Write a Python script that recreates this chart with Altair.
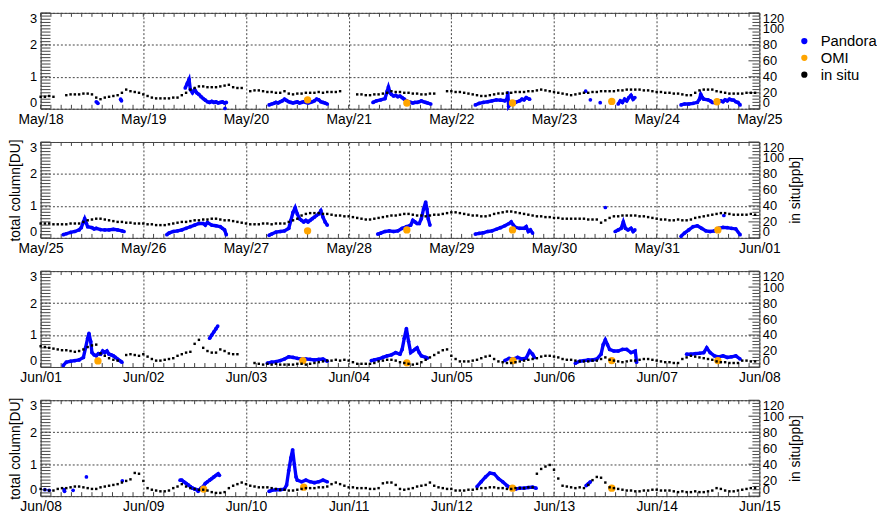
import altair as alt
import pandas as pd
import numpy as np

FONT = "Liberation Sans"
BLUE = "#0000ff"
ORANGE = "#ffa500"
BLACK = "#000000"
W, H = 727, 97

day_labels = ["May/18", "May/19", "May/20", "May/21", "May/22", "May/23", "May/24",
              "May/25", "May/26", "May/27", "May/28", "May/29", "May/30", "May/31",
              "Jun/01", "Jun/02", "Jun/03", "Jun/04", "Jun/05", "Jun/06", "Jun/07",
              "Jun/08", "Jun/09", "Jun/10", "Jun/11", "Jun/12", "Jun/13", "Jun/14", "Jun/15"]

N = None
# in situ NO2, hourly values (ppb) for each 7-day panel; None = no data
insitu_p1 = [15, 15, 16, 15, N, N, 17, 18, 18, 18, 19, 19, 18, 14, 12, 14, 15, 16, 17, 20, 24, 22, 21, 20,
             18, 16, 14, 13, 13, 13, 13, 14, 14, 17, 20, 24, 26, 28, 28, 27, 27, 27, 28, 29, 30, 27, 26, 26,
             N, 22, 23, 23, 22, 21, 21, 20, 20, 22, 19, 18, 19, 19, 20, 20, 20, 21, 20, 21, 21, 21, 22, N,
             N, N, 18, 18, 17, 17, 18, 18, 19, 20, 22, 21, 21, 20, 20, 19, 19, 18, 18, 19, 19, N, N, 22,
             22, 21, 21, 20, 19, 18, 17, 16, 16, 17, 18, 19, 19, 20, 20, 21, 21, 21, 22, 22, 23, 24, 23, 22,
             21, 20, 19, 18, 17, 18, 19, 20, 20, 21, 21, 22, 22, 22, 22, 23, 23, 24, 24, 24, 24, 23, 23, 22,
             21, 21, 20, 20, 19, 19, 18, 17, 17, 20, 23, 24, 24, 24, 22, 21, 20, 19, 19, 19, 19, 20, 20, 20]
insitu_p2 = [18, 18, 18, 17, 17, 17, 17, 18, 18, 18, 20, 22, 23, 24, 24, 23, 22, 21, 20, 20, 19, 19, 18, 18,
             18, 17, 17, 16, 16, 16, 17, 18, 19, 20, 20, 21, 22, 22, 23, 23, 24, 24, 23, 22, 22, 21, 20, 19,
             18, 17, 17, 17, 18, 18, 17, 18, 18, 18, 20, 22, 24, 28, 30, 31, 31, 31, 30, 30, 29, 28, 28, 27,
             27, 26, 25, 24, 23, 23, 24, 25, 26, 27, 28, 28, 29, 30, 30, 29, 28, 28, 27, 28, 29, 29, 30, 31,
             32, 32, 31, 30, 29, 28, 28, 27, 27, 28, 30, 31, 32, 33, 33, 32, 31, 30, 29, 28, 27, 27, 26, 26,
             25, 25, 24, 24, 24, 24, 24, 24, 23, 23, 23, 19, 22, 25, 27, 27, 28, 28, 28, 28, 27, 27, 26, 25,
             24, 23, 23, 22, 22, 23, 22, 22, 23, 25, 26, 27, 28, 29, 30, 31, 31, 30, 29, 29, 29, 29, 30, 29]
insitu_p3 = [26, 25, 24, 23, 22, 21, 21, 20, 19, 20, 22, 25, 27, 28, 17, 14, 11, 9, 8, N, 15, 16, 15, 14,
             16, 13, 10, 8, 8, 9, 10, 11, 14, 16, 18, 19, 29, 34, 24, 20, 18, 18, 22, 20, 17, 16, 16, N,
             N, N, 5, 4, 3, 4, 3, 4, 3, 3, 3, 3, 4, 4, 3, 4, 5, 6, 7, 8, 8, 9, 8, 9,
             8, 6, 4, 4, 4, 4, 5, 7, 8, 9, 9, 8, 6, 5, 4, 3, 4, 6, 9, 12, 15, 18, 21, 22,
             14, 10, 7, 7, 7, 8, 9, 11, 13, 14, 10, 7, 6, 5, 5, 6, 7, 8, 9, 10, 11, 13, 14, 14,
             13, 12, 10, 9, 9, 8, 7, 7, 7, 8, 8, 10, 12, 9, 8, 7, 6, 7, 8, 8, 9, 10, 10, 9,
             8, 7, 6, 6, 5, 5, 10, 12, 14, 13, 12, 11, 10, 9, 7, 6, 6, 5, 5, 5, 8, 8, 7, 7]
insitu_p4 = [9, 8, 7, 7, 9, 10, 10, 11, 12, 12, 11, 10, 9, 9, 11, 12, 13, 14, 15, 17, 19, 21, 29, 28,
             19, 10, 8, 7, 6, 6, 7, 10, 12, 15, 12, 10, 9, 8, 8, 7, 5, 4, 4, 5, 10, 13, 15, 17,
             15, 13, 12, 11, 11, 11, 10, 9, 8, 8, 7, 7, 8, 9, 10, 10, 10, 11, 11, 12, 15, 17, 15, 13,
             11, 11, 10, 10, 10, 9, 9, 10, 16, 17, 17, 14, 9, 8, 9, 10, 12, 13, 14, 17, 13, 11, 10, 9,
             9, 7, 7, 7, 8, 8, 9, 10, 10, 11, 11, 10, 10, 9, 9, 10, 10, 10, 11, 11, 28, 34, 37, 39,
             33, 22, 13, 12, 11, 10, 11, 10, 14, 20, 24, 23, 17, 11, 10, 9, 8, 7, 7, 6, 6, 7, 7, 8,
             8, 7, 7, 7, 6, 5, 6, 5, 5, 6, 5, 5, 6, 7, 10, 9, 7, 6, 6, 7, 8, 9, 10, 10]

# Pandora total column (DU): segments of (hour since panel start, value)
pandora_p1 = [
    [(13.0, 0.22), (13.4, 0.17)],
    [(18.7, 0.30), (18.9, 0.25)],
    [(33.8, 0.65), (34.3, 0.80), (34.7, 0.92), (35.0, 0.60), (35.5, 0.50), (36.0, 0.60), (36.5, 0.50),
     (37.0, 0.45), (37.5, 0.38), (38.0, 0.32), (38.5, 0.27), (39.0, 0.22), (39.5, 0.20), (40.0, 0.23),
     (40.5, 0.20), (41.0, 0.22), (41.5, 0.18), (42.0, 0.20), (42.5, 0.22), (43.0, 0.18), (43.4, 0.20)],
    [(43.1, 0.01)],
    [(53.4, 0.12), (54.0, 0.15), (54.5, 0.17), (55.0, 0.20), (55.5, 0.18), (56.0, 0.22), (56.5, 0.25),
     (57.0, 0.30), (57.5, 0.26), (58.0, 0.22), (58.5, 0.20), (59.0, 0.18), (59.5, 0.20), (60.0, 0.22),
     (60.5, 0.18), (61.0, 0.20), (61.5, 0.22), (62.0, 0.20), (62.5, 0.18), (63.0, 0.20), (63.5, 0.22),
     (64.0, 0.25), (64.5, 0.30), (65.0, 0.28), (65.5, 0.22), (66.0, 0.20), (66.5, 0.18), (67.0, 0.15)],
    [(77.7, 0.20), (78.5, 0.25), (79.5, 0.28), (80.5, 0.32), (81.0, 0.55), (81.3, 0.68), (81.7, 0.50),
     (82.0, 0.45), (82.5, 0.40), (83.0, 0.42), (83.5, 0.38), (84.0, 0.40), (84.5, 0.35), (85.0, 0.30),
     (85.5, 0.25), (86.0, 0.22), (86.5, 0.20), (87.0, 0.18), (87.5, 0.20), (88.0, 0.20), (88.5, 0.22),
     (89.0, 0.25), (89.5, 0.22), (90.0, 0.20), (90.5, 0.18), (91.2, 0.15)],
    [(101.6, 0.12), (102.5, 0.17), (103.5, 0.20), (104.5, 0.22), (105.5, 0.25), (106.5, 0.28),
     (107.5, 0.27), (108.5, 0.25), (109.0, 0.30), (109.2, 0.50), (109.4, 0.08), (110.0, 0.20),
     (111.0, 0.20), (112.0, 0.25), (112.5, 0.30), (113.0, 0.28), (113.5, 0.35), (114.3, 0.30)],
    [(127.4, 0.55)], [(128.5, 0.28)], [(130.8, 0.19)],
    [(135.0, 0.15), (135.5, 0.25), (136.0, 0.20), (136.5, 0.30), (137.0, 0.25), (137.5, 0.35),
     (138.0, 0.42), (138.5, 0.30), (138.9, 0.35)],
    [(149.7, 0.12), (150.5, 0.15), (151.5, 0.15), (152.5, 0.17), (153.5, 0.20), (154.0, 0.30),
     (154.3, 0.45), (154.7, 0.35), (155.0, 0.30), (156.0, 0.28), (156.5, 0.25), (157.0, 0.20),
     (158.0, 0.18), (159.0, 0.25), (159.5, 0.22), (160.0, 0.28), (160.5, 0.25), (161.0, 0.30),
     (161.5, 0.28), (162.0, 0.27), (162.5, 0.22), (163.0, 0.20), (163.5, 0.12)],
]
pandora_p2 = [
    [(5.3, 0.10), (6.0, 0.13), (7.0, 0.17), (8.0, 0.20), (9.0, 0.25), (9.5, 0.32), (10.0, 0.50),
     (10.3, 0.60), (10.7, 0.45), (11.0, 0.35), (12.0, 0.32), (12.5, 0.28), (13.0, 0.30), (14.0, 0.26),
     (15.0, 0.25), (16.0, 0.25), (17.0, 0.27), (18.0, 0.25), (19.0, 0.22), (19.5, 0.20)],
    [(29.5, 0.10), (30.0, 0.15), (31.0, 0.20), (32.0, 0.22), (33.0, 0.25), (34.0, 0.30), (35.0, 0.35),
     (36.0, 0.40), (37.0, 0.45), (38.0, 0.45), (38.5, 0.40), (39.0, 0.48), (40.0, 0.40), (41.0, 0.38),
     (42.0, 0.35), (42.5, 0.30), (43.0, 0.25), (43.4, 0.10)],
    [(53.4, 0.08), (54.0, 0.12), (55.0, 0.18), (56.0, 0.20), (57.0, 0.22), (58.0, 0.30), (58.5, 0.55),
     (59.0, 0.80), (59.5, 0.95), (60.0, 0.75), (60.5, 0.60), (61.0, 0.55), (61.5, 0.50), (62.0, 0.55),
     (62.5, 0.50), (63.0, 0.55), (63.5, 0.60), (64.0, 0.65), (64.5, 0.70), (65.0, 0.75), (65.5, 0.85),
     (66.0, 0.65), (66.5, 0.50), (67.0, 0.40)],
    [(78.8, 0.12), (79.5, 0.15), (80.5, 0.20), (81.5, 0.22), (82.5, 0.20), (83.5, 0.22), (84.5, 0.30),
     (85.5, 0.35), (86.5, 0.40), (87.0, 0.55), (87.5, 0.50), (88.0, 0.45), (88.5, 0.45), (89.0, 0.60),
     (89.5, 0.90), (90.0, 1.12), (90.3, 0.90), (90.6, 0.60), (91.0, 0.40)],
    [(101.6, 0.12), (102.5, 0.14), (103.5, 0.16), (104.5, 0.20), (105.5, 0.22), (106.5, 0.27),
     (107.5, 0.32), (108.5, 0.38), (109.5, 0.45), (110.0, 0.50), (110.5, 0.40), (111.0, 0.33),
     (112.0, 0.30), (113.0, 0.30), (113.5, 0.35), (114.0, 0.20), (114.5, 0.25), (115.0, 0.15)],
    [(132.0, 0.95)],
    [(134.3, 0.20), (135.0, 0.25), (135.7, 0.30), (136.2, 0.50), (136.7, 0.30), (137.3, 0.25),
     (138.0, 0.30), (138.5, 0.20), (138.9, 0.25)],
    [(149.7, 0.05), (150.5, 0.15), (151.5, 0.25), (152.5, 0.35), (153.5, 0.38), (154.5, 0.30),
     (155.5, 0.22), (156.5, 0.20), (157.5, 0.22), (158.5, 0.30), (159.5, 0.33), (160.5, 0.32),
     (161.5, 0.30), (162.5, 0.28), (163.5, 0.10)],
    [(159.7, 0.70)],
]
pandora_p3 = [
    [(5.3, 0.05), (6.0, 0.15), (7.0, 0.18), (8.0, 0.20), (9.0, 0.22), (10.0, 0.30), (10.5, 0.60),
     (11.0, 0.90), (11.3, 1.05), (11.7, 0.80), (12.0, 0.45), (12.5, 0.38), (13.0, 0.35), (13.5, 0.42),
     (14.0, 0.40), (14.5, 0.50), (15.0, 0.45), (15.5, 0.50), (16.0, 0.40), (16.5, 0.38), (17.0, 0.35),
     (17.5, 0.30), (18.0, 0.25), (18.5, 0.20), (19.0, 0.15)],
    [(39.5, 0.90), (40.0, 1.00), (40.5, 1.10), (41.0, 1.20), (41.4, 1.28)],
    [(53.0, 0.12), (54.0, 0.15), (55.0, 0.17), (56.0, 0.20), (57.0, 0.25), (58.0, 0.32), (59.0, 0.30),
     (60.0, 0.27), (61.0, 0.25), (62.0, 0.25), (63.0, 0.24), (64.0, 0.22), (65.0, 0.24), (66.0, 0.25),
     (67.0, 0.18)],
    [(77.3, 0.20), (78.0, 0.22), (79.0, 0.25), (80.0, 0.30), (81.0, 0.35), (82.0, 0.38), (83.0, 0.45),
     (84.0, 0.40), (84.5, 0.55), (85.0, 0.90), (85.5, 1.20), (86.0, 0.80), (86.5, 0.45), (87.0, 0.50),
     (87.5, 0.55), (88.0, 0.60), (88.5, 0.45), (89.0, 0.35), (90.0, 0.30), (90.4, 0.28)],
    [(108.5, 0.20), (109.5, 0.27), (110.5, 0.25), (111.5, 0.30), (112.5, 0.25), (113.5, 0.28),
     (114.3, 0.50), (115.0, 0.40), (115.4, 0.30)],
    [(125.0, 0.12), (126.0, 0.18), (127.0, 0.20), (128.0, 0.22), (129.0, 0.22), (130.0, 0.25),
     (131.0, 0.40), (131.5, 0.70), (132.0, 0.85), (132.5, 0.70), (133.0, 0.55), (134.0, 0.50),
     (135.0, 0.50), (136.0, 0.55), (137.0, 0.55), (138.0, 0.45), (139.0, 0.50), (139.3, 0.15)],
    [(151.0, 0.40), (152.0, 0.40), (153.0, 0.42), (154.0, 0.43), (155.0, 0.45), (155.7, 0.60),
     (156.5, 0.45), (157.5, 0.35), (158.5, 0.32), (159.5, 0.35), (160.5, 0.30), (161.5, 0.32),
     (162.5, 0.35), (163.5, 0.25)],
]
pandora_p4 = [
    [(1.0, 0.20)], [(2.0, 0.18)], [(5.5, 0.20), (5.6, 0.15)], [(7.6, 0.18)], [(10.7, 0.60)], [(19.1, 0.48)],
    [(32.6, 0.50), (33.0, 0.50), (33.5, 0.45), (34.0, 0.40), (34.5, 0.35), (35.0, 0.30), (35.5, 0.25),
     (36.0, 0.22), (36.5, 0.20)],
    [(36.8, 0.15), (37.5, 0.25), (38.0, 0.30), (38.5, 0.40), (39.0, 0.45), (39.5, 0.50), (40.0, 0.55),
     (40.5, 0.60), (41.0, 0.65), (41.5, 0.70), (41.8, 0.65)],
    [(53.4, 0.15), (54.0, 0.18), (55.0, 0.20), (56.0, 0.20), (57.0, 0.22), (57.5, 0.35), (58.0, 0.80),
     (58.5, 1.20), (58.9, 1.45), (59.3, 1.00), (59.7, 0.60), (60.0, 0.50), (61.0, 0.45), (62.0, 0.50),
     (63.0, 0.45), (64.0, 0.42), (65.0, 0.45), (66.0, 0.50), (67.0, 0.45)],
    [(102.0, 0.30), (103.0, 0.45), (104.0, 0.60), (105.0, 0.72), (106.0, 0.70), (107.0, 0.55),
     (108.0, 0.45), (109.0, 0.33), (110.0, 0.25), (111.0, 0.22), (112.0, 0.25), (113.0, 0.25),
     (114.0, 0.27), (115.0, 0.28), (115.8, 0.25)],
    [(127.5, 0.33), (128.0, 0.38), (128.5, 0.45)],
]

# OMI overpass total column (hour since panel start, DU)
omi_p1 = [(62.4, 0.28), (85.6, 0.18), (110.3, 0.18), (133.5, 0.23), (158.1, 0.22)]
omi_p2 = [(62.4, 0.22), (85.6, 0.25), (110.3, 0.25), (158.3, 0.25)]
omi_p3 = [(13.4, 0.19), (61.3, 0.20), (85.6, 0.13), (110.4, 0.20), (133.5, 0.20), (158.3, 0.20)]
omi_p4 = [(38.1, 0.22), (61.5, 0.28), (110.3, 0.25), (133.5, 0.25)]

insitu = [insitu_p1, insitu_p2, insitu_p3, insitu_p4]
pandora = [pandora_p1, pandora_p2, pandora_p3, pandora_p4]
omi = [omi_p1, omi_p2, omi_p3, omi_p4]

du_ticks = [round(0.1 * i, 1) for i in range(31)]
ppb_major = [0, 20, 40, 60, 80, 100, 120]
ppb_minor = [v for v in range(0, 121, 4) if v % 20 != 0]

# ---------- tables ----------
ins_rows, pan_rows, omi_rows = [], [], []
for p in range(4):
    for h, v in enumerate(insitu[p]):
        if v is not None:
            ins_rows.append({"panel": p, "day": 7 * p + h / 24.0, "ppb": v, "src": "in situ"})
    for s, seg in enumerate(pandora[p]):
        for h, v in seg:
            pan_rows.append({"panel": p, "day": 7 * p + h / 24.0, "du": v, "seg": s, "src": "Pandora"})
    for h, v in omi[p]:
        omi_rows.append({"panel": p, "day": 7 * p + h / 24.0, "du": v, "src": "OMI"})
ins_df = pd.DataFrame(ins_rows)
pan_df = pd.DataFrame(pan_rows)
omi_df = pd.DataFrame(omi_rows)

label_expr = "[" + ",".join("'%s'" % s for s in day_labels) + "][round(datum.value)]"

cscale = alt.Scale(domain=["Pandora", "OMI", "in situ"], range=[BLUE, ORANGE, BLACK])
legend = alt.Legend(orient="none", legendX=765, legendY=21, title=None, labelFontSize=15,
                    labelFont=FONT, symbolSize=40, symbolType="circle", rowPadding=1,
                    padding=0, labelOffset=9, symbolStrokeWidth=0)
GRIDC = "#444444"


def panel(p, titles):
    d0 = 7 * p
    xs = alt.Scale(domain=[d0, d0 + 7], nice=False, zero=False)
    ys = alt.Scale(domain=[0, 3], nice=False, zero=False)
    ys2 = alt.Scale(domain=[0, 120], nice=False, zero=False)
    xaxis = alt.Axis(values=list(range(d0, d0 + 8)), labelExpr=label_expr, grid=True,
                     gridDash=[2, 2], gridColor=GRIDC, gridWidth=1, ticks=False, domain=False,
                     labelFlush=False, labelPadding=4, labelFontSize=14, labelFont=FONT,
                     labelOverlap=False)
    ykw = dict(values=[0, 1, 2, 3], grid=True, gridDash=[2, 2], gridColor=GRIDC, gridWidth=1,
               ticks=False, domain=False, labelPadding=4, labelFontSize=13, labelFont=FONT,
               labelFlush=True, labelFlushOffset=0.5, labelOverlap=False, titleFontSize=14,
               titleFont=FONT, titleFontWeight="normal", titlePadding=7)
    yaxis = alt.Axis(**ykw)
    ytitle = "total column[DU]" if titles else None
    X = alt.X("day:Q", scale=xs, axis=xaxis, title=None)

    pdf = pan_df[pan_df.panel == p]
    line = alt.Chart(pdf).mark_line(color=BLUE, strokeWidth=3.4).encode(
        x=X, y=alt.Y("du:Q", scale=ys, axis=yaxis, title=ytitle), detail="seg:N")
    pts = alt.Chart(pdf).mark_circle(size=14, opacity=1).encode(
        x=X, y=alt.Y("du:Q", scale=ys, axis=yaxis, title=ytitle),
        color=alt.Color("src:N", scale=cscale, legend=legend))
    om = alt.Chart(omi_df[omi_df.panel == p]).mark_circle(size=55, opacity=1).encode(
        x=X, y=alt.Y("du:Q", scale=ys, axis=yaxis, title=ytitle),
        color=alt.Color("src:N", scale=cscale, legend=legend))

    tl = alt.Chart(pd.DataFrame({"v": du_ticks})).mark_rule(color="#444", strokeWidth=1).encode(
        y=alt.Y("v:Q", scale=ys, axis=yaxis, title=ytitle), x=alt.value(0), x2=alt.value(10))
    trM = alt.Chart(pd.DataFrame({"v": [v / 40.0 for v in ppb_major]})).mark_rule(
        color="#444", strokeWidth=1).encode(
        y=alt.Y("v:Q", scale=ys, axis=yaxis, title=ytitle), x=alt.value(W - 11), x2=alt.value(W))
    trm = alt.Chart(pd.DataFrame({"v": [v / 40.0 for v in ppb_minor]})).mark_rule(
        color="#444", strokeWidth=1).encode(
        y=alt.Y("v:Q", scale=ys, axis=yaxis, title=ytitle), x=alt.value(W - 7), x2=alt.value(W))
    xt = pd.DataFrame({"v": [d0 + k / 10.0 for k in range(71)]})
    ttop = alt.Chart(xt).mark_rule(color="#444", strokeWidth=1).encode(
        x=alt.X("v:Q", scale=xs, axis=xaxis, title=None), y=alt.value(0), y2=alt.value(4))
    tbot = alt.Chart(xt).mark_rule(color="#444", strokeWidth=1).encode(
        x=alt.X("v:Q", scale=xs, axis=xaxis, title=None), y=alt.value(H - 4), y2=alt.value(H))

    left = alt.layer(tl, trM, trm, ttop, tbot, line, pts, om)

    raxis = alt.Axis(orient="right", values=ppb_major, ticks=False, domain=False, grid=False,
                     labelPadding=3, labelFontSize=13, labelFont=FONT, labelFlush=True,
                     labelFlushOffset=0.5, labelOverlap=False, titleFontSize=14, titleFont=FONT,
                     titleFontWeight="normal", titleAngle=270, titleBaseline="top", titlePadding=5)
    rtitle = "in situ[ppb]" if titles else None
    ins = alt.Chart(ins_df[ins_df.panel == p]).mark_square(size=6, opacity=1).encode(
        x=X, y=alt.Y("ppb:Q", scale=ys2, axis=raxis, title=rtitle),
        color=alt.Color("src:N", scale=cscale, legend=legend))

    return alt.layer(left, ins).resolve_scale(y="independent").properties(width=W, height=H)


chart = alt.vconcat(panel(0, False), panel(1, True), panel(2, False), panel(3, True),
                    spacing=33.6, bounds="flush").properties(
    padding={"left": 0, "top": 1, "right": 0, "bottom": 0}).configure_view(
    stroke="#444444", strokeWidth=1).configure_axis(labelColor="#000", titleColor="#000").configure_legend(
    labelFontSize=15, labelFont=FONT, labelColor="#000")

chart.save("out.html", embed_options={"renderer": "svg", "actions": False})
